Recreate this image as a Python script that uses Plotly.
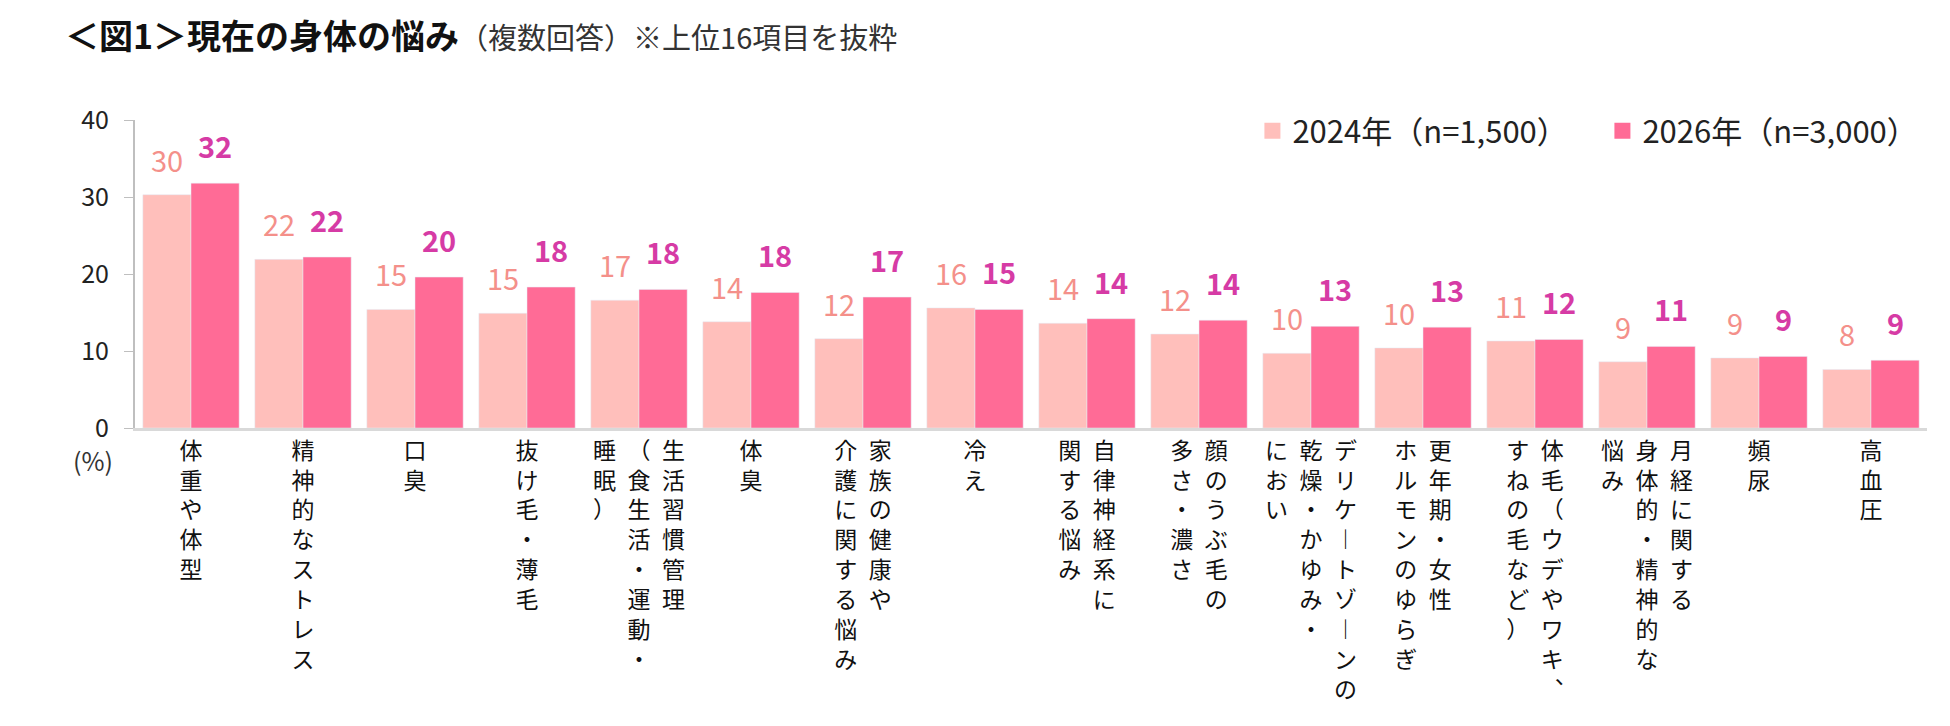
import plotly.graph_objects as go

# label columns read top-to-bottom, first column is the rightmost one
categories = [
    ["体重や体型"],
    ["精神的なストレス"],
    ["口臭"],
    ["抜け毛・薄毛"],
    ["生活習慣管理", "（食生活・運動・", "睡眠）"],
    ["体臭"],
    ["家族の健康や", "介護に関する悩み"],
    ["冷え"],
    ["自律神経系に", "関する悩み"],
    ["顔のうぶ毛の", "多さ・濃さ"],
    ["デリケートゾーンの", "乾燥・かゆみ・", "におい"],
    ["更年期・女性", "ホルモンのゆらぎ"],
    ["体毛（ウデやワキ、", "すねの毛など）"],
    ["月経に関する", "身体的・精神的な", "悩み"],
    ["頻尿"],
    ["高血圧"],
]
y2024 = [30.3, 21.9, 15.4, 14.9, 16.6, 13.8, 11.6, 15.6, 13.6, 12.2, 9.7, 10.4, 11.3, 8.6, 9.1, 7.6]
y2026 = [31.8, 22.2, 19.6, 18.3, 18.0, 17.6, 17.0, 15.4, 14.2, 14.0, 13.2, 13.1, 11.5, 10.6, 9.3, 8.8]
names = ["2024年（n=1,500）", "2026年（n=3,000）"]
yticks = [0, 10, 20, 30, 40]

FONT = "Noto Sans CJK JP"
# latin first font keeps the line boxes of the stacked labels tighter
LABEL_FONT = "Liberation Sans, Noto Sans CJK JP"
C_LIGHT, C_DARK = "#FFBFBB", "#FF6B96"
T_LIGHT, T_DARK = "#F4908A", "#D63BA5"
BARGAP = 0.14

# stack characters to imitate vertical writing
VERT = {"ー": "︱", "、": "︑"}


def vertical(cols):
    n = max(len(c) for c in cols)
    rows = []
    for r in range(n):
        cells = [VERT.get(c[r], c[r]) if r < len(c) else "\u3000" for c in reversed(cols)]
        rows.append("\u2002".join(cells))
    return "<br>".join(rows)


ticktext = [vertical(c) for c in categories]
xs = list(range(len(categories)))

fig = go.Figure()
fig.add_trace(go.Bar(x=xs, y=y2024, marker_color=C_LIGHT, showlegend=False))
fig.add_trace(go.Bar(x=xs, y=y2026, marker_color=C_DARK, showlegend=False))

# legend entries with bigger square swatches
for name, col, lw in zip(names, [C_LIGHT, C_DARK], [305, None]):
    fig.add_trace(go.Scatter(x=[None], y=[None], mode="markers", name=name, legendwidth=lw,
                             marker=dict(symbol="square", size=18, color=col)))

off = (1 - BARGAP) / 4
for i in xs:
    fig.add_annotation(x=i - off, y=y2024[i], text=f"{y2024[i]:.0f}", showarrow=False,
                       yanchor="middle", yshift=36, font=dict(size=29, color=T_LIGHT))
    fig.add_annotation(x=i + off, y=y2026[i], text=f"<b>{y2026[i]:.0f}</b>", showarrow=False,
                       yanchor="middle", yshift=38, font=dict(size=29, color=T_DARK))

fig.add_annotation(xref="paper", yref="paper", x=0, y=1, xshift=-72, yshift=86,
                   xanchor="left", yanchor="middle", showarrow=False,
                   text="<b>＜図1＞現在の身体の悩み</b>"
                        "<span style='font-size:29px;color:#333333'>（複数回答）※上位16項目を抜粋</span>",
                   font=dict(size=34, color="#111111"))
fig.add_annotation(xref="paper", yref="paper", x=0, y=0, xshift=-42, yshift=-32,
                   xanchor="center", yanchor="middle", showarrow=False,
                   text="(%)", font=dict(size=25, color="#333333"))

fig.update_layout(
    width=1934, height=710,
    margin=dict(l=127, r=15, t=112, b=290),
    barmode="group", bargap=BARGAP, bargroupgap=0,
    plot_bgcolor="white", paper_bgcolor="white",
    font=dict(family=FONT, color="#111111"),
    legend=dict(orientation="h", x=0.998, xanchor="right", y=0.964, yanchor="middle",
                font=dict(size=31, color="#222222"), bgcolor="rgba(0,0,0,0)"),
)
fig.update_xaxes(range=[-0.5, len(xs) - 0.5], tickvals=xs, ticktext=ticktext,
                 tickfont=dict(family=LABEL_FONT, size=23, color="#111111"), showgrid=False,
                 showline=True, linecolor="#D9D9D9", linewidth=3, ticks="")
fig.update_yaxes(range=[0, 40], tickvals=yticks, showgrid=False, zeroline=False,
                 showline=True, linecolor="#BFBFBF", linewidth=2,
                 ticks="outside", ticklen=9, tickcolor="#BFBFBF", ticklabelstandoff=10,
                 tickfont=dict(size=25, color="#222222"))

fig.write_html("out.html")
